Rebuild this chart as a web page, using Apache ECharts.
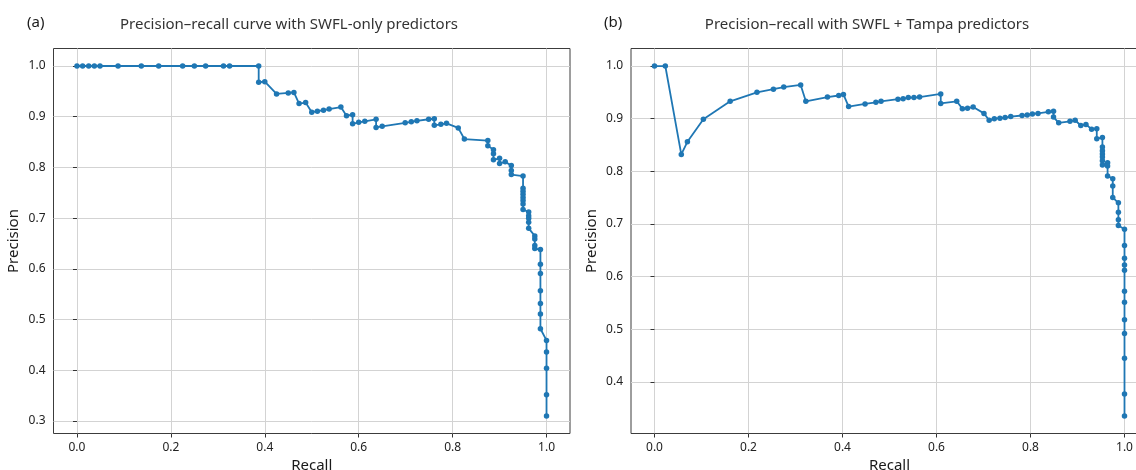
<!DOCTYPE html>
<html>
<head>
<meta charset="utf-8">
<script src="https://cdn.jsdelivr.net/npm/echarts@6/dist/echarts.min.js"></script>
<style>
  html, body { margin: 0; padding: 0; background: #fff; }
  #chart { width: 1136px; height: 470px; }
</style>
</head>
<body>
<div id="chart"></div>
<script>
// panel (a): SWFL-only predictors
const recallA = [0, 0.012, 0.025, 0.037, 0.049, 0.0875, 0.137, 0.174, 0.225, 0.25, 0.274, 0.312, 0.325, 0.387,
  0.387, 0.40, 0.425, 0.45, 0.462, 0.473, 0.487, 0.50, 0.512, 0.525, 0.537, 0.562, 0.574, 0.587, 0.587, 0.60,
  0.613, 0.637, 0.637, 0.65, 0.699, 0.712, 0.724, 0.749, 0.761, 0.761, 0.775, 0.787, 0.812, 0.825, 0.875,
  0.875, 0.887, 0.887, 0.887, 0.90, 0.90, 0.912, 0.925, 0.925, 0.925, 0.95, 0.95, 0.95, 0.95, 0.95, 0.95,
  0.95, 0.95, 0.962, 0.962, 0.962, 0.962, 0.962, 0.975, 0.975, 0.975, 0.975, 0.987, 0.987, 0.987, 0.987,
  0.987, 0.987, 0.987, 1, 1, 1, 1, 1];
const precisionA = [1, 1, 1, 1, 1, 1, 1, 1, 1, 1, 1, 1, 1, 1,
  0.968, 0.969, 0.945, 0.947, 0.948, 0.926, 0.928, 0.909, 0.911, 0.913, 0.915, 0.919, 0.902, 0.904, 0.886, 0.889,
  0.891, 0.895, 0.879, 0.881, 0.888, 0.890, 0.892, 0.895, 0.896, 0.883, 0.885, 0.887, 0.878, 0.856, 0.853,
  0.843, 0.835, 0.827, 0.815, 0.818, 0.808, 0.811, 0.804, 0.794, 0.786, 0.783, 0.759, 0.753, 0.747, 0.741, 0.735,
  0.728, 0.717, 0.712, 0.705, 0.700, 0.692, 0.680, 0.665, 0.659, 0.646, 0.640, 0.638, 0.609, 0.591, 0.557,
  0.532, 0.511, 0.482, 0.459, 0.436, 0.404, 0.352, 0.310];

// panel (b): SWFL + Tampa predictors
const recallB = [0, 0.023, 0.057, 0.070, 0.104, 0.161, 0.218, 0.253, 0.275, 0.311, 0.322, 0.368, 0.392, 0.402,
  0.413, 0.448, 0.471, 0.482, 0.518, 0.529, 0.540, 0.552, 0.564, 0.609, 0.609, 0.643, 0.655, 0.666, 0.678,
  0.701, 0.712, 0.723, 0.735, 0.746, 0.758, 0.782, 0.793, 0.804, 0.816, 0.838, 0.849, 0.849, 0.860, 0.884,
  0.895, 0.907, 0.918, 0.930, 0.941, 0.941, 0.953, 0.953, 0.953, 0.953, 0.953, 0.953, 0.953, 0.964, 0.964,
  0.964, 0.975, 0.975, 0.975, 0.987, 0.987, 0.987, 0.987, 1, 1, 1, 1, 1, 1, 1, 1, 1, 1, 1, 1];
const precisionB = [1, 1, 0.832, 0.856, 0.899, 0.933, 0.950, 0.956, 0.960, 0.964, 0.933, 0.941, 0.944, 0.946,
  0.923, 0.928, 0.931, 0.933, 0.937, 0.938, 0.940, 0.940, 0.941, 0.947, 0.929, 0.933, 0.919, 0.920, 0.922,
  0.910, 0.897, 0.900, 0.901, 0.902, 0.904, 0.906, 0.907, 0.909, 0.910, 0.913, 0.914, 0.903, 0.892, 0.895,
  0.897, 0.887, 0.889, 0.880, 0.881, 0.862, 0.864, 0.846, 0.839, 0.833, 0.827, 0.820, 0.812, 0.816, 0.810,
  0.791, 0.786, 0.772, 0.750, 0.740, 0.722, 0.708, 0.697, 0.690, 0.659, 0.635, 0.622, 0.612, 0.572, 0.551,
  0.518, 0.492, 0.445, 0.377, 0.335];

const xTicks = [0, 0.2, 0.4, 0.6, 0.8, 1.0];
const yTicksA = [0.3, 0.4, 0.5, 0.6, 0.7, 0.8, 0.9, 1.0];
const yTicksB = [0.4, 0.5, 0.6, 0.7, 0.8, 0.9, 1.0];

const FONT = '"Noto Sans", "Open Sans", sans-serif';
const BLUE = '#1f77b4';

const pairs = (xs, ys) => xs.map((x, i) => [x, ys[i]]);

const makeX = (gridIndex) => ({
  type: 'value', gridIndex: gridIndex, min: -0.05, max: 1.05,
  name: 'Recall', nameLocation: 'middle', nameGap: 21,
  nameTextStyle: { fontFamily: FONT, fontSize: 15, color: '#1a1a1a' },
  axisLine: { show: false },
  axisTick: { show: true, length: 4, customValues: xTicks, lineStyle: { color: '#333' } },
  axisLabel: { customValues: xTicks, margin: 8, fontFamily: FONT, fontSize: 12, color: '#222',
    formatter: (v) => v.toFixed(1) },
  splitLine: { show: true, lineStyle: { color: '#d3d3d3', width: 1 } }
});

const makeY = (gridIndex, min, max, ticks) => ({
  type: 'value', gridIndex: gridIndex, min: min, max: max,
  name: 'Precision', nameLocation: 'middle', nameGap: 32,
  nameTextStyle: { fontFamily: FONT, fontSize: 15, color: '#1a1a1a' },
  axisLine: { show: false },
  axisTick: { show: true, length: 4, customValues: ticks, lineStyle: { color: '#333' } },
  axisLabel: { customValues: ticks, margin: 8, fontFamily: FONT, fontSize: 12, color: '#222',
    formatter: (v) => v.toFixed(1) },
  splitLine: { show: true, lineStyle: { color: '#d3d3d3', width: 1 } }
});

const makeSeries = (idx, data) => ({
  type: 'line', xAxisIndex: idx, yAxisIndex: idx, data: data,
  symbol: 'circle', symbolSize: 5.5, showSymbol: true, clip: false,
  itemStyle: { color: BLUE }, lineStyle: { color: BLUE, width: 1.8 }
});

const chart = echarts.init(document.getElementById('chart'), null, { renderer: 'canvas' });

const option = {
  animation: false,
  backgroundColor: '#fff',
  graphic: [
    { type: 'text', left: 27, top: 15, style: { text: '(a)', font: '15px ' + FONT, fill: '#1a1a1a' } },
    { type: 'text', x: 289, y: 25, style: { text: 'Precision–recall curve with SWFL-only predictors',
      font: '15px ' + FONT, fill: '#333', align: 'center', verticalAlign: 'middle' } },
    { type: 'text', left: 604, top: 15, style: { text: '(b)', font: '15px ' + FONT, fill: '#1a1a1a' } },
    { type: 'text', x: 867, y: 25, style: { text: 'Precision–recall with SWFL + Tampa predictors',
      font: '15px ' + FONT, fill: '#333', align: 'center', verticalAlign: 'middle' } }
  ],
  grid: [
    { left: 53.5, top: 48.5, width: 516.5, height: 385, show: true, borderColor: '#3c3c3c', borderWidth: 1,
      outerBoundsMode: 'none' },
    { left: 631, top: 48.5, width: 517, height: 385, show: true, borderColor: '#3c3c3c', borderWidth: 1,
      outerBoundsMode: 'none' }
  ],
  xAxis: [makeX(0), makeX(1)],
  yAxis: [makeY(0, 0.2755, 1.0345, yTicksA), makeY(1, 0.3018, 1.0333, yTicksB)],
  series: [makeSeries(0, pairs(recallA, precisionA)), makeSeries(1, pairs(recallB, precisionB))]
};

chart.setOption(option);
</script>
</body>
</html>
